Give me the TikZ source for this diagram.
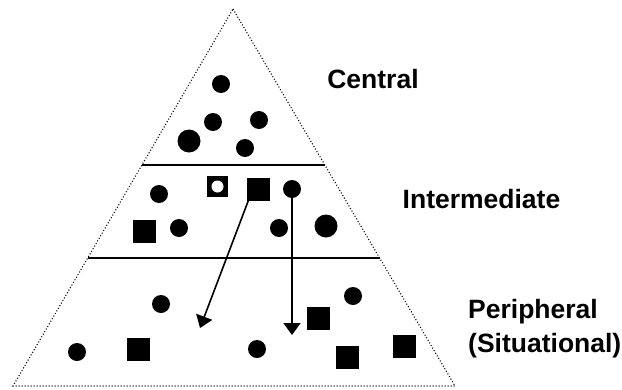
\documentclass[tikz,border=0pt]{standalone}
\usepackage{fontspec}
\setsansfont{Liberation Sans}
\usetikzlibrary{arrows.meta,positioning,calc}
\tikzset{
  edge/.style={draw=black,line width=1.1pt,dash pattern=on 1pt off 2pt},
  band/.style={draw=black,line width=1.6pt},
  dot/.style={circle,fill=black,inner sep=0pt,minimum size=18pt},
  bigdot/.style={dot,minimum size=23pt},
  block/.style={rectangle,fill=black,inner sep=0pt,minimum size=23pt},
  hole/.style={circle,fill=white,inner sep=0pt,minimum size=12pt},
  move/.style={-{Triangle[length=12pt,width=17pt]},draw=black,line width=1.6pt},
  level/.style={font=\sffamily\bfseries\fontsize{26.5}{34}\selectfont,
    align=left,inner sep=0pt}
}
\begin{document}
\begin{tikzpicture}[x=1pt,y=-1pt]
  \path[use as bounding box] (0,0) rectangle (622,389);

  % Pyramid outline and the two level boundaries
  \coordinate (apex) at (233,9);
  \coordinate (baseL) at (13,386);
  \coordinate (baseR) at (455,386);
  \draw[edge] (apex) -- (baseR) -- (baseL) -- cycle;
  \coordinate (upperL) at ($(apex)!0.414!(baseL)$);
  \coordinate (upperR) at ($(apex)!0.414!(baseR)$);
  \coordinate (lowerL) at ($(apex)!0.660!(baseL)$);
  \coordinate (lowerR) at ($(apex)!0.660!(baseR)$);
  \draw[band] (upperL) -- (upperR);
  \draw[band] (lowerL) -- (lowerR);

  % Central level
  \foreach \n/\x/\y in {c1/221/84,c2/213/122,c3/259/120,c4/245/148}
    \node[dot] (\n) at (\x,\y) {};
  \node[bigdot] (c5) at (189,141) {};

  % Intermediate level
  \foreach \n/\x/\y in {i1/159/194,i2/292/189,i3/179/228,i4/279/228}
    \node[dot] (\n) at (\x,\y) {};
  \node[bigdot] (i5) at (326,226) {};
  \node[block,minimum size=21pt] (i6) at (217.5,186.5) {};
  \node[hole] (i6hole) at (i6) {};
  \node[block] (i7) at (258,189) {};
  \node[block] (i8) at (144,231) {};

  % Peripheral level
  \foreach \n/\x/\y in {p1/161/304,p2/353/296,p3/77/352,p4/257/349}
    \node[dot] (\n) at (\x,\y) {};
  \foreach \n/\x/\y in {p5/318/318,p6/138/349,p7/347/357,p8/404/346}
    \node[block] (\n) at (\x,\y) {};

  % Movement towards the periphery
  \coordinate (dropA) at (200,328);
  \coordinate (dropB) at (i2 |- 0,335);
  \draw[move] ($(i7.south west)+(2,0)$) -- (dropA);
  \draw[move] (i2.center) -- (dropB);

  % Level names
  \node[level] (central) at (373,79) {Central};
  \node[level] (middle) at (481.5,199) {Intermediate};
  \node[level,anchor=north west] (outer) at (468,299) {Peripheral\\(Situational)};
\end{tikzpicture}
\end{document}
